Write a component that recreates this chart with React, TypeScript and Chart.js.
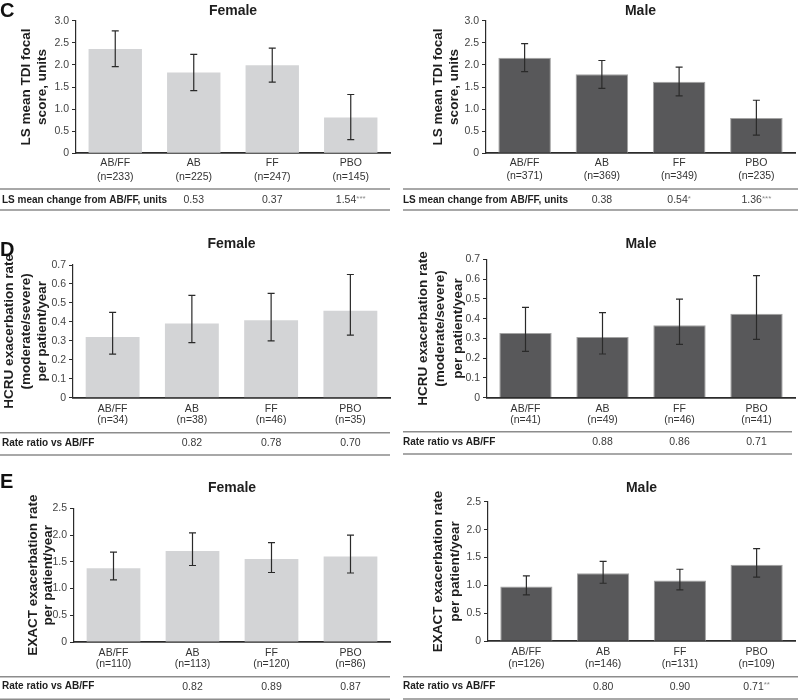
import React, { useEffect, useRef } from 'react';
import { Chart, registerables } from 'chart.js';

Chart.register(...registerables);

const FONT = '"Liberation Sans", Arial, Helvetica, sans-serif';
Chart.defaults.font.family = FONT;

// ---------- data ----------
const groups = ['AB/FF', 'AB', 'FF', 'PBO'];

const tdiFemaleN = ['233', '225', '247', '145'];
const tdiFemaleMean = [2.36, 1.83, 1.99, 0.81];
const tdiFemaleLow = [1.96, 1.42, 1.61, 0.31];
const tdiFemaleHigh = [2.77, 2.24, 2.38, 1.33];
const tdiFemaleTable = ['', '0.53', '0.37', '1.54'];
const tdiFemaleStars = ['', '', '', '***'];

const tdiMaleN = ['371', '369', '349', '235'];
const tdiMaleMean = [2.16, 1.79, 1.62, 0.8];
const tdiMaleLow = [1.85, 1.47, 1.3, 0.41];
const tdiMaleHigh = [2.48, 2.1, 1.95, 1.2];
const tdiMaleTable = ['', '0.38', '0.54', '1.36'];
const tdiMaleStars = ['', '', '*', '***'];

const hcruFemaleN = ['34', '38', '46', '35'];
const hcruFemaleMean = [0.32, 0.392, 0.408, 0.459];
const hcruFemaleLow = [0.23, 0.29, 0.3, 0.33];
const hcruFemaleHigh = [0.45, 0.54, 0.55, 0.65];
const hcruFemaleTable = ['', '0.82', '0.78', '0.70'];
const hcruFemaleStars = ['', '', '', ''];

const hcruMaleN = ['41', '49', '46', '41'];
const hcruMaleMean = [0.327, 0.307, 0.366, 0.425];
const hcruMaleLow = [0.234, 0.221, 0.27, 0.295];
const hcruMaleHigh = [0.457, 0.43, 0.499, 0.617];
const hcruMaleTable = ['', '0.88', '0.86', '0.71'];
const hcruMaleStars = ['', '', '', ''];

const exactFemaleN = ['110', '113', '120', '86'];
const exactFemaleMean = [1.38, 1.7, 1.55, 1.6];
const exactFemaleLow = [1.16, 1.43, 1.3, 1.29];
const exactFemaleHigh = [1.68, 2.04, 1.86, 2.0];
const exactFemaleTable = ['', '0.82', '0.89', '0.87'];
const exactFemaleStars = ['', '', '', ''];

const exactMaleN = ['126', '146', '131', '109'];
const exactMaleMean = [0.98, 1.22, 1.09, 1.37];
const exactMaleLow = [0.83, 1.04, 0.92, 1.15];
const exactMaleHigh = [1.17, 1.43, 1.29, 1.66];
const exactMaleTable = ['', '0.80', '0.90', '0.71'];
const exactMaleStars = ['', '', '', '**'];

const tdiTitle = ['LS mean TDI focal', 'score, units'];
const hcruTitle = ['HCRU exacerbation rate', '(moderate/severe)', 'per patient/year'];
const exactTitle = ['EXACT exacerbation rate', 'per patient/year'];
const tdiRowLabel = 'LS mean change from AB/FF, units';
const rateRowLabel = 'Rate ratio vs AB/FF';

const FEMALE_FILL = '#d3d4d6';
const MALE_FILL = '#58585a';
const MALE_EDGE = '#a3a3a3';
const AXIS = '#2b2b2b';

type PanelCfg = {
  title: string;
  n: string[];
  mean: number[];
  low: number[];
  high: number[];
  table: string[];
  stars: string[];
  rowLabel: string;
  yTitle: string[];
  yMax: number;
  yStep: number;
  fill: string;
  edge: string | null;
  pos: { x: number; y: number; w: number; h: number };
  area: { l: number; t: number; r: number; b: number };
  titleTop: number;
  yTitleOffset: number;
  yTitleLH: number;
  xPad: number;
  xLH: number;
  tbl: { top: number; text: number; bottom: number; x0: number; x1: number; labelX: number };
};

function Panel({ cfg }: { cfg: PanelCfg }) {
  const ref = useRef<HTMLCanvasElement>(null);
  useEffect(() => {
    const p = cfg;
    const extras = {
      id: 'extras',
      afterDatasetsDraw(chart: any) {
        const ctx = chart.ctx;
        const xs = chart.scales.x;
        const ys = chart.scales.y;
        ctx.save();
        ctx.strokeStyle = '#2a2a2a';
        ctx.lineWidth = 1.2;
        for (let i = 0; i < p.mean.length; i++) {
          const x = xs.getPixelForValue(i);
          const yh = ys.getPixelForValue(p.high[i]);
          const yl = ys.getPixelForValue(p.low[i]);
          ctx.beginPath();
          ctx.moveTo(x, yh);
          ctx.lineTo(x, yl);
          ctx.moveTo(x - 3.5, yh);
          ctx.lineTo(x + 3.5, yh);
          ctx.moveTo(x - 3.5, yl);
          ctx.lineTo(x + 3.5, yl);
          ctx.stroke();
        }
        ctx.restore();
      },
      afterDraw(chart: any) {
        const ctx = chart.ctx;
        const xs = chart.scales.x;
        const t = p.tbl;
        ctx.save();
        ctx.strokeStyle = '#8c8c8c';
        ctx.lineWidth = 1.5;
        ctx.beginPath();
        ctx.moveTo(t.x0, t.top);
        ctx.lineTo(t.x1, t.top);
        ctx.moveTo(t.x0, t.bottom);
        ctx.lineTo(t.x1, t.bottom);
        ctx.stroke();
        ctx.textBaseline = 'middle';
        ctx.textAlign = 'left';
        ctx.fillStyle = '#1e1e1e';
        ctx.font = `bold 10px ${FONT}`;
        ctx.fillText(p.rowLabel, t.labelX, t.text);
        for (let i = 0; i < p.table.length; i++) {
          const v = p.table[i];
          if (!v) continue;
          const s = p.stars[i];
          ctx.font = `10.5px ${FONT}`;
          const wv = ctx.measureText(v).width;
          ctx.font = `8px ${FONT}`;
          const ws = s ? ctx.measureText(s).width : 0;
          const cx = xs.getPixelForValue(i);
          const x0 = cx - (wv + ws) / 2;
          ctx.font = `10.5px ${FONT}`;
          ctx.fillStyle = '#3a3a3a';
          ctx.fillText(v, x0, t.text);
          if (s) {
            ctx.font = `8px ${FONT}`;
            ctx.fillStyle = '#8a8a8a';
            ctx.fillText(s, x0 + wv, t.text - 1.5);
          }
        }
        ctx.restore();
      },
    };

    const chart = new Chart(ref.current as HTMLCanvasElement, {
      type: 'bar',
      data: {
        labels: groups.map((g, i) => [g, `(n=${p.n[i]})`]),
        datasets: [
          {
            data: p.mean,
            backgroundColor: p.fill,
            borderColor: p.edge || p.fill,
            borderWidth: p.edge ? 1 : 0,
            barPercentage: 0.68,
            categoryPercentage: 1,
          },
        ],
      },
      options: {
        responsive: false,
        animation: false,
        events: [],
        layout: { padding: { left: 0, top: 0, bottom: 0, right: p.pos.w - p.area.r } },
        plugins: {
          legend: { display: false },
          tooltip: { enabled: false },
          title: {
            display: true,
            text: p.title,
            fullSize: false,
            color: '#1e1e1e',
            font: { family: FONT, size: 14, weight: 'bold', lineHeight: '16.8px' },
            padding: { top: p.titleTop, bottom: p.area.t - p.titleTop - 16.8 },
          },
        },
        scales: {
          x: {
            grid: { display: false, drawTicks: false },
            border: { display: true, color: AXIS, width: 1.8 },
            ticks: {
              color: '#333',
              font: { family: FONT, size: 10.5, lineHeight: `${p.xLH}px` },
              padding: p.xPad,
              maxRotation: 0,
              autoSkip: false,
            },
            afterFit: (s: any) => {
              s.height = p.pos.h - p.area.b;
            },
          },
          y: {
            min: 0,
            max: p.yMax,
            ticks: {
              stepSize: p.yStep,
              color: '#444',
              font: { family: FONT, size: 10.5 },
              padding: 3,
              callback: (v: any) => (Number(v) === 0 ? '0' : Number(v).toFixed(1)),
            },
            grid: { drawOnChartArea: false, drawTicks: true, tickLength: 4, color: AXIS, lineWidth: 1 },
            border: { display: true, color: AXIS, width: 1.2 },
            title: {
              display: true,
              text: p.yTitle,
              color: '#1e1e1e',
              font: { family: FONT, size: 13.5, weight: 'bold', lineHeight: `${p.yTitleLH}px` },
              padding: { top: p.yTitleOffset, bottom: 0 },
            },
            afterFit: (s: any) => {
              s.width = p.area.l;
            },
          },
        },
      },
      plugins: [extras],
    } as any);
    return () => chart.destroy();
  }, [cfg]);

  return (
    <canvas
      ref={ref}
      width={cfg.pos.w}
      height={cfg.pos.h}
      style={{
        position: 'absolute',
        left: cfg.pos.x,
        top: cfg.pos.y,
        width: cfg.pos.w,
        height: cfg.pos.h,
        display: 'block',
      }}
    />
  );
}

const panels: PanelCfg[] = [
  {
    title: 'Female', n: tdiFemaleN, mean: tdiFemaleMean, low: tdiFemaleLow, high: tdiFemaleHigh,
    table: tdiFemaleTable, stars: tdiFemaleStars, rowLabel: tdiRowLabel, yTitle: tdiTitle,
    yMax: 3, yStep: 0.5, fill: FEMALE_FILL, edge: null,
    pos: { x: 0, y: 0, w: 395, h: 215 }, area: { l: 76, t: 20.7, r: 390, b: 153.3 },
    titleTop: 2.6, yTitleOffset: 18, yTitleLH: 16, xPad: 3, xLH: 14,
    tbl: { top: 189, text: 200, bottom: 210, x0: 0, x1: 390, labelX: 2 },
  },
  {
    title: 'Male', n: tdiMaleN, mean: tdiMaleMean, low: tdiMaleLow, high: tdiMaleHigh,
    table: tdiMaleTable, stars: tdiMaleStars, rowLabel: tdiRowLabel, yTitle: tdiTitle,
    yMax: 3, yStep: 0.5, fill: MALE_FILL, edge: MALE_EDGE,
    pos: { x: 400, y: 0, w: 399, h: 215 }, area: { l: 86, t: 20.7, r: 395, b: 153.3 },
    titleTop: 2.6, yTitleOffset: 30, yTitleLH: 16, xPad: 3, xLH: 13.5,
    tbl: { top: 189, text: 200, bottom: 210, x0: 3, x1: 398, labelX: 3 },
  },
  {
    title: 'Female', n: hcruFemaleN, mean: hcruFemaleMean, low: hcruFemaleLow, high: hcruFemaleHigh,
    table: hcruFemaleTable, stars: hcruFemaleStars, rowLabel: rateRowLabel, yTitle: hcruTitle,
    yMax: 0.7, yStep: 0.1, fill: FEMALE_FILL, edge: null,
    pos: { x: 0, y: 235, w: 395, h: 225 }, area: { l: 73, t: 30, r: 390, b: 162.7 },
    titleTop: 0.6, yTitleOffset: 1.5, yTitleLH: 16.5, xPad: 6, xLH: 11,
    tbl: { top: 197.7, text: 208.3, bottom: 220, x0: 0, x1: 390, labelX: 2 },
  },
  {
    title: 'Male', n: hcruMaleN, mean: hcruMaleMean, low: hcruMaleLow, high: hcruMaleHigh,
    table: hcruMaleTable, stars: hcruMaleStars, rowLabel: rateRowLabel, yTitle: hcruTitle,
    yMax: 0.7, yStep: 0.1, fill: MALE_FILL, edge: MALE_EDGE,
    pos: { x: 400, y: 235, w: 399, h: 225 }, area: { l: 87, t: 24.3, r: 395, b: 162.7 },
    titleTop: 0.6, yTitleOffset: 14.5, yTitleLH: 17.5, xPad: 6, xLH: 11,
    tbl: { top: 196.7, text: 207.5, bottom: 219, x0: 3, x1: 392, labelX: 3 },
  },
  {
    title: 'Female', n: exactFemaleN, mean: exactFemaleMean, low: exactFemaleLow, high: exactFemaleHigh,
    table: exactFemaleTable, stars: exactFemaleStars, rowLabel: rateRowLabel, yTitle: exactTitle,
    yMax: 2.5, yStep: 0.5, fill: FEMALE_FILL, edge: null,
    pos: { x: 0, y: 475, w: 395, h: 225 }, area: { l: 74, t: 33.3, r: 390, b: 167 },
    titleTop: 4.9, yTitleOffset: 26.25, yTitleLH: 14.5, xPad: 5, xLH: 11.5,
    tbl: { top: 201.7, text: 211.7, bottom: 224.3, x0: 0, x1: 390, labelX: 2 },
  },
  {
    title: 'Male', n: exactMaleN, mean: exactMaleMean, low: exactMaleLow, high: exactMaleHigh,
    table: exactMaleTable, stars: exactMaleStars, rowLabel: rateRowLabel, yTitle: exactTitle,
    yMax: 2.5, yStep: 0.5, fill: MALE_FILL, edge: MALE_EDGE,
    pos: { x: 400, y: 475, w: 399, h: 225 }, area: { l: 88, t: 26.7, r: 395, b: 166.3 },
    titleTop: 4.9, yTitleOffset: 29.5, yTitleLH: 17, xPad: 5.5, xLH: 11.5,
    tbl: { top: 201.7, text: 211.7, bottom: 224, x0: 3, x1: 398, labelX: 3 },
  },
];

const letters = [
  { t: 'C', top: 0 },
  { t: 'D', top: 238.5 },
  { t: 'E', top: 470.5 },
];

export default function App() {
  return (
    <div
      style={{
        position: 'absolute',
        left: 0,
        top: 0,
        width: 799,
        height: 700,
        background: '#fff',
        overflow: 'hidden',
        fontFamily: FONT,
      }}
    >
      {panels.map((p, i) => (
        <Panel key={i} cfg={p} />
      ))}
      {letters.map((l) => (
        <div
          key={l.t}
          style={{
            position: 'absolute',
            left: 0,
            top: l.top,
            fontSize: 20,
            lineHeight: '20px',
            fontWeight: 'bold',
            color: '#111',
          }}
        >
          {l.t}
        </div>
      ))}
    </div>
  );
}
